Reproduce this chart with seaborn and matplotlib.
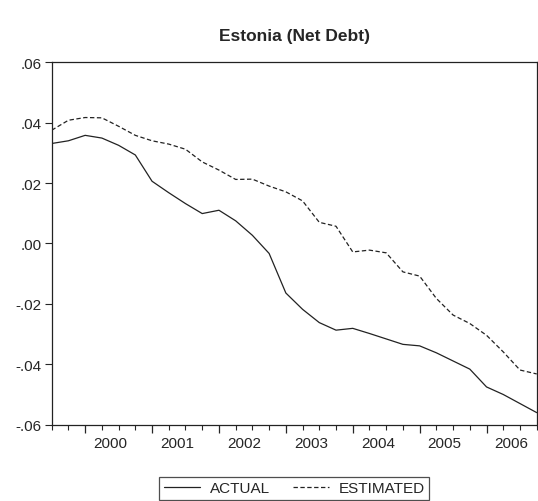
import numpy as np
import pandas as pd
import matplotlib
matplotlib.use('Agg')
import matplotlib.pyplot as plt
import seaborn as sns

# quarterly, 1999Q3 .. 2006Q4
quarters = pd.period_range('1999Q3', '2006Q4', freq='Q').astype(str).tolist()
actual = [0.0331, 0.0340, 0.0358, 0.0349, 0.0325, 0.0293, 0.0206, 0.0168, 0.0132, 0.0099,
          0.0110, 0.0075, 0.0027, -0.0033, -0.0164, -0.0218, -0.0262, -0.0287, -0.0281, -0.0298,
          -0.0316, -0.0334, -0.0339, -0.0362, -0.0389, -0.0416, -0.0475, -0.0500, -0.0530, -0.0560]
estimated = [0.0375, 0.0408, 0.0417, 0.0416, 0.0388, 0.0358, 0.0340, 0.0329, 0.0312, 0.0270,
             0.0243, 0.0212, 0.0213, 0.0190, 0.0171, 0.0141, 0.0070, 0.0057, -0.0028, -0.0022,
             -0.0031, -0.0094, -0.0108, -0.0182, -0.0237, -0.0265, -0.0304, -0.0359, -0.0419, -0.0432]
year_labels = ['2000', '2001', '2002', '2003', '2004', '2005', '2006']
y_ticks = [-0.06, -0.04, -0.02, 0.00, 0.02, 0.04, 0.06]
y_labels = ['-.06', '-.04', '-.02', '.00', '.02', '.04', '.06']

sns.set_style('ticks')
plt.rcParams['font.family'] = ['Liberation Sans', 'DejaVu Sans']

df = pd.DataFrame({'t': np.arange(len(quarters)), 'quarter': quarters,
                   'ACTUAL': actual, 'ESTIMATED': estimated})

fig = plt.figure(figsize=(5.38, 5.02), dpi=100)
ax = fig.add_axes([0.0961, 0.152, 0.9015, 0.722])

sns.lineplot(data=df, x='t', y='ACTUAL', ax=ax, color='#222222', lw=0.9, label='ACTUAL')
sns.lineplot(data=df, x='t', y='ESTIMATED', ax=ax, color='#222222', lw=0.9,
             linestyle=(0, (3.5, 2)), label='ESTIMATED')

ax.set_xlim(0, len(quarters) - 1)
ax.set_ylim(-0.06, 0.06)
ax.set_yticks(y_ticks)
ax.set_yticklabels(y_labels, fontsize=11)
ax.set_xlabel('')
ax.set_ylabel('')

# year starts get the long ticks, quarters the short ones
q1_pos = [i for i, q in enumerate(quarters) if q.endswith('Q1')]
ax.set_xticks(q1_pos)
ax.set_xticklabels([])
ax.set_xticks(range(len(quarters)), minor=True)
ax.tick_params(axis='x', which='major', length=6, width=0.9, direction='out')
ax.tick_params(axis='x', which='minor', length=3.5, width=0.8, direction='out')
ax.tick_params(axis='y', length=5, width=0.8, direction='out', pad=2)
for p, lab in zip(q1_pos, year_labels):
    ax.text(p + 1.5, -0.0638, lab, ha='center', va='top', fontsize=11)

for s in ax.spines.values():
    s.set_visible(True)
    s.set_linewidth(0.9)
    s.set_color('#222222')

ax.set_title('Estonia (Net Debt)', fontsize=12.5, fontweight='bold', pad=16)

leg = ax.legend(loc='upper center', bbox_to_anchor=(0.5, -0.143), ncol=2, frameon=True,
                fancybox=False, edgecolor='#222222', fontsize=11, handlelength=2.4,
                borderpad=0.3, columnspacing=1.5, handletextpad=0.6, borderaxespad=0)
leg.get_frame().set_linewidth(0.9)

fig.savefig('out.png', dpi=100)
